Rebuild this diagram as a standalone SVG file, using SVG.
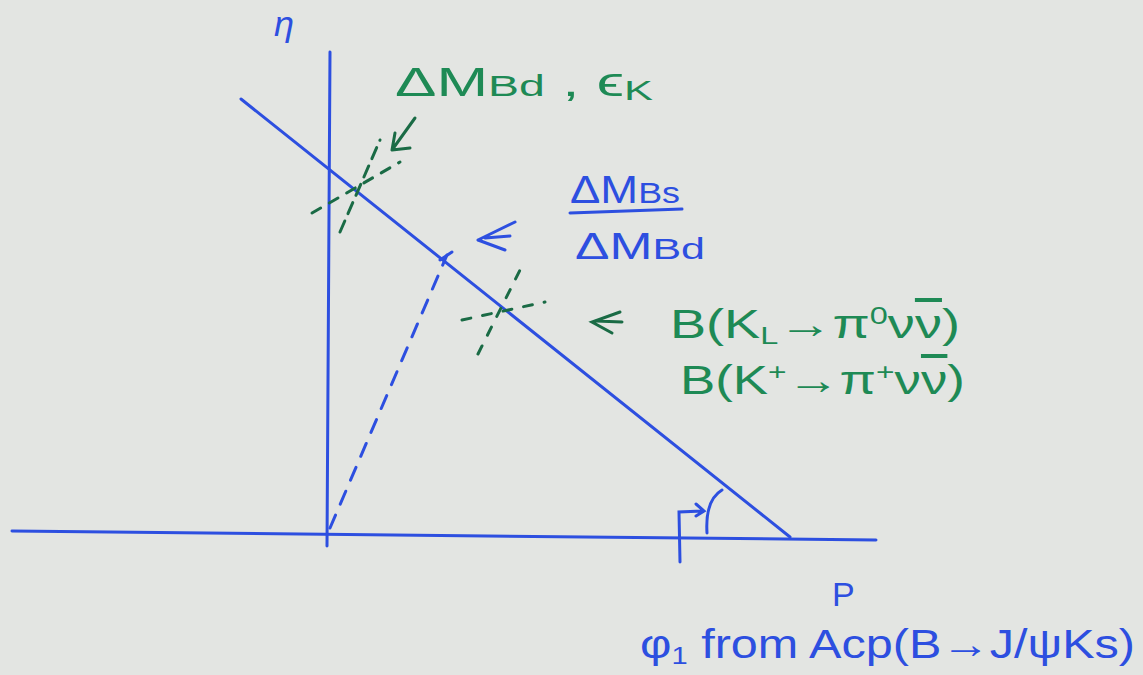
<svg xmlns="http://www.w3.org/2000/svg" width="1143" height="675" viewBox="0 0 1143 675">
<defs>
<style>
.b{stroke:#2d4fe0;stroke-width:3;fill:none;stroke-linecap:round}
.g{stroke:#1a6b45;stroke-width:3;fill:none;stroke-linecap:round}
.bt{fill:#2d4fe0;font-family:"Liberation Sans",sans-serif}
.gt{fill:#1e8a55;font-family:"Liberation Sans",sans-serif}
.ov{text-decoration:overline}
</style>
</defs>
<rect width="1143" height="675" fill="#e3e5e2"/>
<g id="axes">
<path class="b" d="M12 531 L876 540"/>
<path class="b" d="M330 52 L327 546"/>
<path class="b" d="M241 99 L790 537"/>
<text class="bt" x="274" y="36" font-size="36" font-style="italic">η</text>
<text class="bt" x="832" y="606" font-size="34">P</text>
</g>
<g id="connectors">
<path class="b" d="M330 528 L447 255" stroke-dasharray="14 12"/>
<path class="b" d="M440 260 L452 252"/>
<path class="g" d="M340 232 L380 140" stroke-dasharray="12 8" stroke="#1b5e3e"/>
<path class="g" d="M312 213 L400 162" stroke-dasharray="10 10" stroke="#1b5e3e"/>
<path class="g" d="M478 354 L520 270" stroke-dasharray="9 12" stroke="#1b5e3e"/>
<path class="g" d="M462 320 L545 302" stroke-dasharray="9 12" stroke="#1b5e3e"/>
<path class="g" d="M415 118 L392 150 M392 150 L395 133 M392 150 L410 148" stroke="#1e8a55"/>
<path class="b" d="M515 222 L478 240 M478 240 L505 250 M485 238 L510 236"/>
<path class="g" d="M620 312 L592 322 L612 333 M596 321 L622 322" stroke="#1e8a55"/>
<path class="b" d="M707 533 Q705 500 722 490"/>
<path class="b" d="M680 562 L679 512 L703 511 M696 504 L704 511 L696 516"/>
</g>
<g id="label-dmbd">
<text class="gt" x="395" y="96" font-size="40" textLength="258" lengthAdjust="spacingAndGlyphs">ΔM<tspan font-size="30">Bd</tspan> , ϵ<tspan font-size="28" dy="4">K</tspan></text>
</g>
<g id="label-ratio">
<text class="bt" x="570" y="203" font-size="38" textLength="110" lengthAdjust="spacingAndGlyphs">ΔM<tspan font-size="30">Bs</tspan></text>
<path class="b" d="M570 213 L682 209"/>
<text class="bt" x="575" y="259" font-size="36" textLength="130" lengthAdjust="spacingAndGlyphs">ΔM<tspan font-size="30">Bd</tspan></text>
</g>
<g id="label-k">
<text class="gt" x="670" y="338" font-size="40" textLength="290" lengthAdjust="spacingAndGlyphs">B(K<tspan font-size="24" dy="6">L</tspan><tspan dy="-6">→π</tspan><tspan font-size="24" dy="-14">0</tspan><tspan dy="14">ν</tspan><tspan class="ov">ν</tspan>)</text>
<text class="gt" x="680" y="394" font-size="40" textLength="285" lengthAdjust="spacingAndGlyphs">B(K<tspan font-size="24" dy="-14">+</tspan><tspan dy="14">→π</tspan><tspan font-size="24" dy="-14">+</tspan><tspan dy="14">ν</tspan><tspan class="ov">ν</tspan>)</text>
</g>
<g id="label-phi">
<text class="bt" x="640" y="658" font-size="40" textLength="495" lengthAdjust="spacingAndGlyphs">φ<tspan font-size="24" dy="6">1</tspan><tspan dy="-6"> from  Acp(B→J/ψKs)</tspan></text>
</g>
</svg>
